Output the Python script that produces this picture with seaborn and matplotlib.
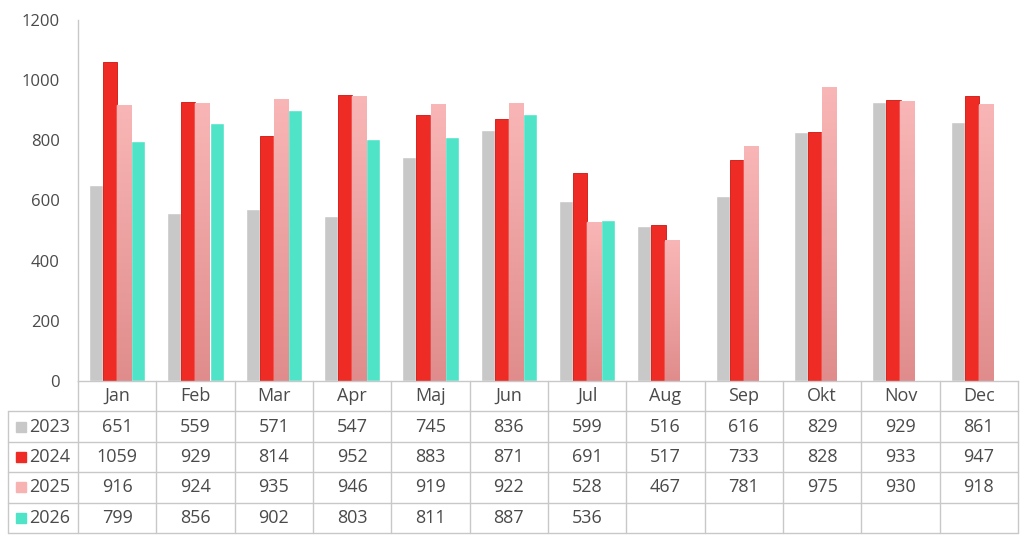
import numpy as np
import pandas as pd
import matplotlib
matplotlib.use("Agg")
import matplotlib.pyplot as plt
from matplotlib.colors import LinearSegmentedColormap
import seaborn as sns

months = ["Jan", "Feb", "Mar", "Apr", "Maj", "Jun", "Jul", "Aug", "Sep", "Okt", "Nov", "Dec"]
years = ["2023", "2024", "2025", "2026"]
v2023 = [651, 559, 571, 547, 745, 836, 599, 516, 616, 829, 929, 861]
v2024 = [1059, 929, 814, 952, 883, 871, 691, 517, 733, 828, 933, 947]
v2025 = [916, 924, 935, 946, 919, 922, 528, 467, 781, 975, 930, 918]
v2026 = [799, 856, 902, 803, 811, 887, 536]
colors = ["#C8C8C8", "#EE2B24", "#F7B2B2", "#4FE3C8"]

series = dict(zip(years, [v2023, v2024, v2025, v2026]))
rows = []
for yr, vals in series.items():
    for m, v in zip(months, vals):
        rows.append({"month": m, "year": yr, "value": v})
df = pd.DataFrame(rows)

sns.set_style("white")
plt.rcParams["font.family"] = ["Open Sans", "DejaVu Sans"]
txt = "#4A4A4A"
line_c = "#C8C8C8"

fig = plt.figure(figsize=(10.24, 5.4), dpi=100)
ax = fig.add_axes([78 / 1024, (540 - 381) / 540, 940 / 1024, 361 / 540])

sns.barplot(data=df, x="month", y="value", hue="year", order=months, hue_order=years,
            palette=colors, width=0.72, saturation=1, legend=False, ax=ax)

# thin darker edge on 2024 bars
for bar in ax.containers[1]:
    bar.set_edgecolor("#D42520")
    bar.set_linewidth(0.7)

# vertical gradient on 2025 bars
grad = LinearSegmentedColormap.from_list("pinkgrad", ["#E08C8C", "#F9B6B6"])
for bar in ax.containers[2]:
    x0, w, h = bar.get_x(), bar.get_width(), bar.get_height()
    g = np.linspace(0, 1, 256).reshape(-1, 1)
    ax.imshow(g, extent=[x0, x0 + w, 0, h], origin="lower", aspect="auto",
              cmap=grad, zorder=bar.get_zorder() + 0.1)

ax.set_xlim(-0.5, 11.5)
ax.set_ylim(0, 1200)
ax.set_yticks(range(0, 1201, 200))
ax.set_xticks([])
ax.set_xlabel("")
ax.set_ylabel("")
sns.despine(ax=ax, top=True, right=True)
for s in ["left", "bottom"]:
    ax.spines[s].set_color(line_c)
    ax.spines[s].set_linewidth(1)
ax.tick_params(axis="y", length=5, width=1, color=line_c, labelsize=12, labelcolor=txt, pad=8)

# data table under the chart
lab_w = 70 / (940 / 12)
tax = fig.add_axes([8 / 1024, (540 - 533) / 540, 1010 / 1024, 152 / 540])
tax.set_xlim(-0.5 - lab_w, 11.5)
tax.set_ylim(5, 0)
tax.axis("off")
left = -0.5 - lab_w
for k in range(13):
    tax.plot([k - 0.5, k - 0.5], [0, 5], color=line_c, lw=1, clip_on=False)
tax.plot([left, left], [1, 5], color=line_c, lw=1, clip_on=False)
for r in range(1, 6):
    tax.plot([left, 11.5], [r, r], color=line_c, lw=1, clip_on=False)

for i, m in enumerate(months):
    tax.text(i, 0.5, m, ha="center", va="center", fontsize=13, color=txt)
for r, yr in enumerate(years):
    tax.plot(left + 0.17, r + 1.5, marker="s", ms=7.5, color=colors[r], mec=colors[r], clip_on=False)
    tax.text(left + 0.27, r + 1.5, yr, ha="left", va="center", fontsize=13, color=txt)
    for i, v in enumerate(series[yr]):
        tax.text(i, r + 1.5, str(v), ha="center", va="center", fontsize=13, color=txt)

fig.savefig("out.png", dpi=100)
